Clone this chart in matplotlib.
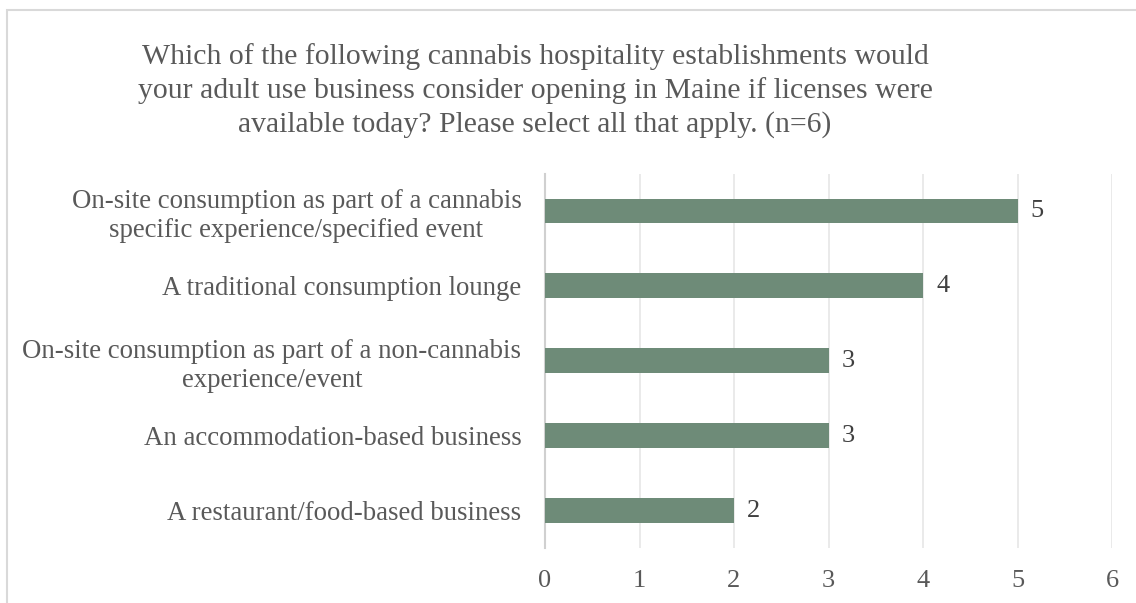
import matplotlib
matplotlib.use("Agg")
import matplotlib.pyplot as plt
from matplotlib.patches import Rectangle

categories = [
    "On-site consumption as part of a cannabis\nspecific experience/specified event",
    "A traditional consumption lounge",
    "On-site consumption as part of a non-cannabis\nexperience/event",
    "An accommodation-based business",
    "A restaurant/food-based business",
]
values = [5, 4, 3, 3, 2]
xticks = [0, 1, 2, 3, 4, 5, 6]
title = ("Which of the following cannabis hospitality establishments would\n"
         "your adult use business consider opening in Maine if licenses were\n"
         "available today? Please select all that apply. (n=6)")

plt.rcParams['font.family'] = ['Liberation Serif', 'DejaVu Serif']
W, H = 1136, 603
fig = plt.figure(figsize=(W/100, H/100), dpi=100)
txt = '#595959'

# chart border
fig.patches.append(Rectangle((7/W, -0.1), 1.2, (H-10)/H + 0.1, transform=fig.transFigure,
                             fill=False, edgecolor='#D9D9D9', linewidth=1.5))

ax = fig.add_axes([545/W, 1-548/H, (1112-545)/W, (548-173.5)/H])
y = list(range(len(categories)))
ax.barh(y, values, height=0.33, color='#6E8B78', zorder=3)
ax.set_ylim(len(categories)-0.5, -0.5)
ax.set_xlim(0, 6)
ax.set_xticks(xticks)
ax.set_xticklabels([str(t) for t in xticks], fontsize=19, color=txt)
ax.set_yticks(y)
ax.set_yticklabels(categories, fontsize=19.3, color=txt, linespacing=1.2)
for lab in ax.get_yticklabels():
    lab.set_multialignment('center')
ax.tick_params(axis='y', length=0, pad=17)
ax.tick_params(axis='x', length=0, pad=16)
ax.grid(axis='x', color='#E6E6E6', linewidth=1.2, zorder=0)
for s in ['top', 'right', 'bottom']:
    ax.spines[s].set_visible(False)
ax.spines['left'].set_color('#D0D0D0')
ax.spines['left'].set_linewidth(1.5)
for yi, v in zip(y, values):
    ax.text(v + 0.14, yi, str(v), va='center', ha='left', fontsize=19, color='#404040')

fig.text(535/W, 1-43/H, title, ha='center', va='top', fontsize=21.4, color=txt, linespacing=1.33)
fig.savefig('out.png', dpi=100)
